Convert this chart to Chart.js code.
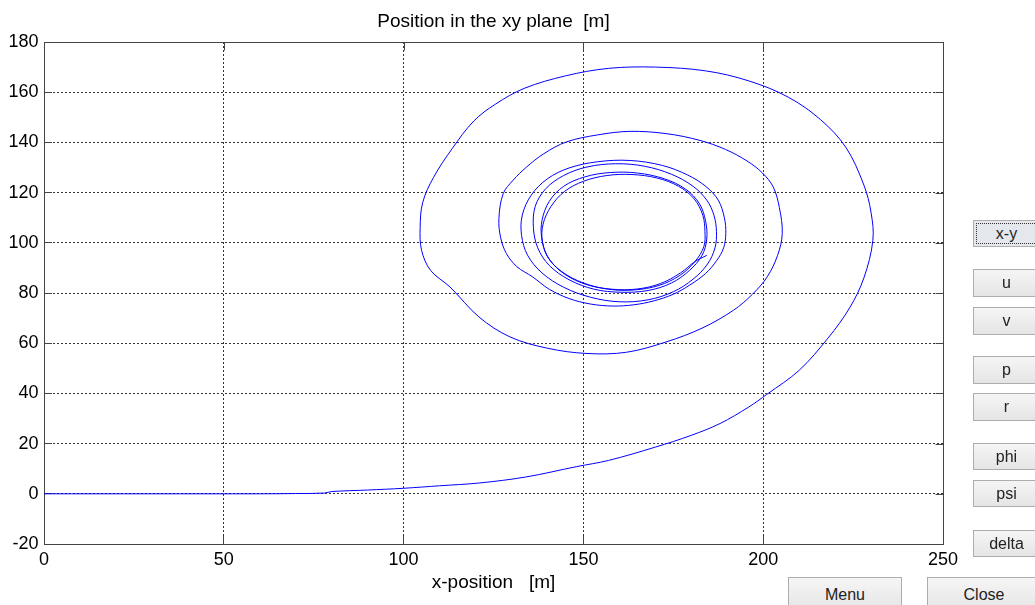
<!DOCTYPE html>
<html><head><meta charset="utf-8">
<script src="https://cdn.jsdelivr.net/npm/chart.js@4"></script>
<style>
html,body{margin:0;padding:0;background:#fff;width:1035px;height:605px;overflow:hidden;}
#wrap{position:relative;width:1035px;height:605px;overflow:hidden;}
canvas{position:absolute;left:0;top:0;}
.btn{position:absolute;box-sizing:border-box;background:linear-gradient(#f5f5f5,#e5e5e5);border:1px solid #adadad;font-family:"Liberation Sans",Arial,sans-serif;font-size:16px;color:#222;display:flex;align-items:center;justify-content:center;}
.sel{background:#e4e8ec;outline:1px dotted #333;outline-offset:-4px;}
</style></head>
<body><div id="wrap"><canvas id="c" width="1035" height="605"></canvas>
<div class="btn sel" style="left:973px;top:220px;width:67px;height:27px">x-y</div>
<div class="btn" style="left:973px;top:269px;width:67px;height:28px">u</div>
<div class="btn" style="left:973px;top:307px;width:67px;height:28px">v</div>
<div class="btn" style="left:973px;top:356px;width:67px;height:28px">p</div>
<div class="btn" style="left:973px;top:393px;width:67px;height:28px">r</div>
<div class="btn" style="left:973px;top:443px;width:67px;height:27px">phi</div>
<div class="btn" style="left:973px;top:480px;width:67px;height:27px">psi</div>
<div class="btn" style="left:973px;top:530px;width:67px;height:27px">delta</div>
<div class="btn" style="left:788px;top:577px;width:114px;height:36px">Menu</div>
<div class="btn" style="left:927px;top:577px;width:114px;height:36px">Close</div>
</div>
<script>
const xTickValues = [0, 50, 100, 150, 200, 250];
const yTickValues = [-20, 0, 20, 40, 60, 80, 100, 120, 140, 160, 180];

const posX = [0,30,60,70,78,80,90,100,110,121,134,148,157,170,180,188,196,201,210,218,224,228,230.5,
230,228,223,216,207,196,184,170,157,145,133.5,125.5,119.5,113.5,108.3,105.3,104.6,105,107.5,112.9,121,129.6,140,151,162,173,183,191.7,197,201.1,204,205.3,
204.5,202.8,199.8,195.5,189.5,182.4,173,163,154,145.3,139,134.2,130.5,127.7,126.5,127,128.6,131.5,135.9,140.5,146,152,158.3,164,169.4,175,179.6,184,187.1,189,189.6,
189.2,187.5,184,179,172,163,154,146,140,135.5,133,132.8,134.5,138.5,144.5,152,160,168,175,180.5,184.5,186.6,187,
186.3,184.3,180.5,174.5,167,159,151,144.5,139.5,136.6,136.1,137.3,140.5,146,153,160.5,168,174.5,179.5,183,184.3,
184,182.3,178.5,172.5,165,157.5,150.5,144.5,140.5,138.5,138.4,140,144,150,157,164,171,176.8,181,183.5,183.8,
183.2,180.8,176.5,170.5,163.5,156.5,150,144.8,141,138.8,138.6,140.5,144.8,151,158,165,171.5,177,181,184.3];

const posY = [0,0,0,0.1,0.3,0.9,1.5,2.2,3.2,4.3,6.7,10.8,13.3,18.6,23.3,28,34.6,39.6,49.2,62,74,86,101,
112,123,138,149,158,164.5,168.5,170,169.5,166.5,161.5,155.2,148.5,137.5,126,116,106,97,89,82.4,70.4,62.5,58,55.9,56.4,60.5,66,73.1,79.5,86.4,95,103.7,
114,122.2,127.8,132.6,137.2,140.8,143.5,144.4,143,140.2,135.5,130.2,125,119.6,109.6,102,95.7,90.5,86.4,81.5,77.8,75.6,74.8,75.3,76.8,79.5,83.2,87.8,93,98,103.7,
110,117,122.5,127,130.8,132.8,132.3,129.8,125.5,119,111,103,95,88,82.3,78.3,76.5,77.3,80.5,85.5,91.5,98,104.5,
111,117,122.5,127.3,130.5,131.5,130.2,126.8,121.5,114.5,106,98,91,85.3,81.5,80.3,81,84,89,95,101.5,
108.5,115.5,121.3,125.5,127.8,128,126.3,122.5,116.5,109,102,94.5,88.5,84,81.5,81.2,83,87,92.5,98.5,104.5,
111,117.5,122.5,125.8,127.2,126.8,124.5,120.5,114.5,107.5,100.5,93.5,87.5,83.3,81.5,81.6,83.8,88,92.5,95];

const n = Math.min(posX.length, posY.length);
const points = [];
for (let i = 0; i < n; i++) points.push({x: posX[i], y: posY[i]});

Chart.defaults.font.family = '"Liberation Sans", Arial, sans-serif';
Chart.defaults.color = '#000';

const boxPlugin = {
  id: 'box',
  afterDraw(chart) {
    const {ctx, chartArea: a, scales: {x, y}} = chart;
    ctx.save();
    ctx.strokeStyle = '#444';
    ctx.lineWidth = 1;
    const L = Math.round(a.left) + 0.5, R = Math.round(a.right) + 0.5;
    const T = Math.round(a.top) + 0.5, B = Math.round(a.bottom) + 0.5;
    ctx.beginPath();
    ctx.moveTo(L, T); ctx.lineTo(R, T); ctx.lineTo(R, B);
    x.ticks.forEach(t => {
      const px = Math.round(x.getPixelForValue(t.value)) + 0.5;
      ctx.moveTo(px, T); ctx.lineTo(px, T + 8);
    });
    y.ticks.forEach(t => {
      const py = Math.round(y.getPixelForValue(t.value)) + 0.5;
      ctx.moveTo(R, py); ctx.lineTo(R - 8, py);
    });
    ctx.stroke();
    ctx.restore();
  }
};

new Chart(document.getElementById('c'), {
  type: 'scatter',
  data: {
    datasets: [{
      data: points,
      showLine: true,
      borderColor: '#0000ff',
      borderWidth: 1,
      pointRadius: 0,
      tension: 0.35,
      fill: false
    }]
  },
  options: {
    responsive: false,
    animation: false,
    layout: {padding: {left: 0, right: 92, top: 0, bottom: 0}},
    plugins: {
      legend: {display: false},
      tooltip: {enabled: false},
      title: {
        display: true,
        text: 'Position in the xy plane  [m]',
        fullSize: false,
        color: '#000',
        font: {size: 19, weight: 'normal'},
        padding: {top: 10, bottom: 9.2}
      }
    },
    scales: {
      x: {
        type: 'linear', min: 0, max: 250,
        afterBuildTicks: s => { s.ticks = xTickValues.map(v => ({value: v})); },
        afterFit: s => { s.height = 61; },
        grid: {color: '#333', lineWidth: 1, tickLength: -8, tickColor: '#444'},
        border: {display: true, color: '#444', width: 1, dash: [2, 2]},
        ticks: {padding: 13, color: '#000', font: {size: 18}, maxRotation: 0},
        title: {display: true, text: 'x-position   [m]', color: '#000', font: {size: 19}, padding: {top: 0, bottom: 10.6}}
      },
      y: {
        type: 'linear', min: -20, max: 180,
        afterBuildTicks: s => { s.ticks = yTickValues.map(v => ({value: v})); },
        afterFit: s => { s.width = 44; },
        grid: {color: '#333', lineWidth: 1, tickLength: -8, tickColor: '#444'},
        border: {display: true, color: '#444', width: 1, dash: [2, 2]},
        ticks: {padding: 13.5, color: '#000', font: {size: 18}}
      }
    }
  },
  plugins: [boxPlugin]
});
</script>
</body></html>
